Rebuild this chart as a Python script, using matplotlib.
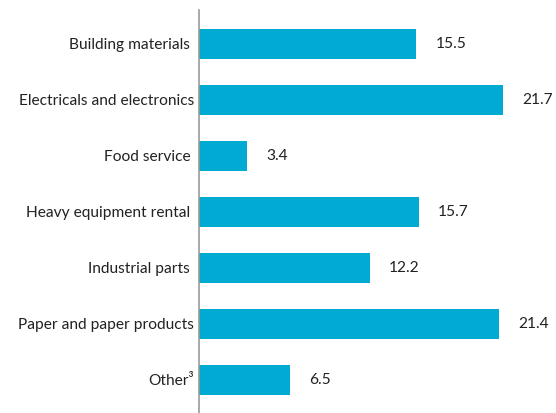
import matplotlib
matplotlib.use("Agg")
import matplotlib.pyplot as plt

categories = ["Building materials ", "Electricals and electronics", "Food service ",
              "Heavy equipment rental ", "Industrial parts ", "Paper and paper products", "Other³"]
values = [15.5, 21.7, 3.4, 15.7, 12.2, 21.4, 6.5]
value_labels = ["15.5", "21.7", "3.4", "15.7", "12.2", "21.4", "6.5"]

plt.rcParams['font.family'] = ['Lato', 'DejaVu Sans']

fig = plt.figure(figsize=(5.56, 4.13), dpi=100)
ax = fig.add_axes([199/556, 0, 1 - 199/556, 1 - 10/413])

color = "#00AAD2"
y = list(range(len(categories)))
ax.barh(y, values, height=0.55, color=color)
for yi, v, lab in zip(y, values, value_labels):
    ax.annotate(lab, (v, yi), xytext=(14, 0), textcoords="offset points",
                va="center", ha="left", fontsize=11.2, color="#222222")

ax.set_yticks(y)
ax.set_yticklabels(categories, fontsize=11.2, color="#222222")
ax.tick_params(axis="y", length=0, pad=3.5)
ax.set_xticks([])
ax.set_xlim(0, 357/14.0)
ax.set_ylim(6 + 33/56, -34/56)
for s in ["top", "right", "bottom"]:
    ax.spines[s].set_visible(False)
ax.spines["left"].set_color("#999999")
ax.spines["left"].set_linewidth(1.2)

fig.savefig("out.png", dpi=100)
